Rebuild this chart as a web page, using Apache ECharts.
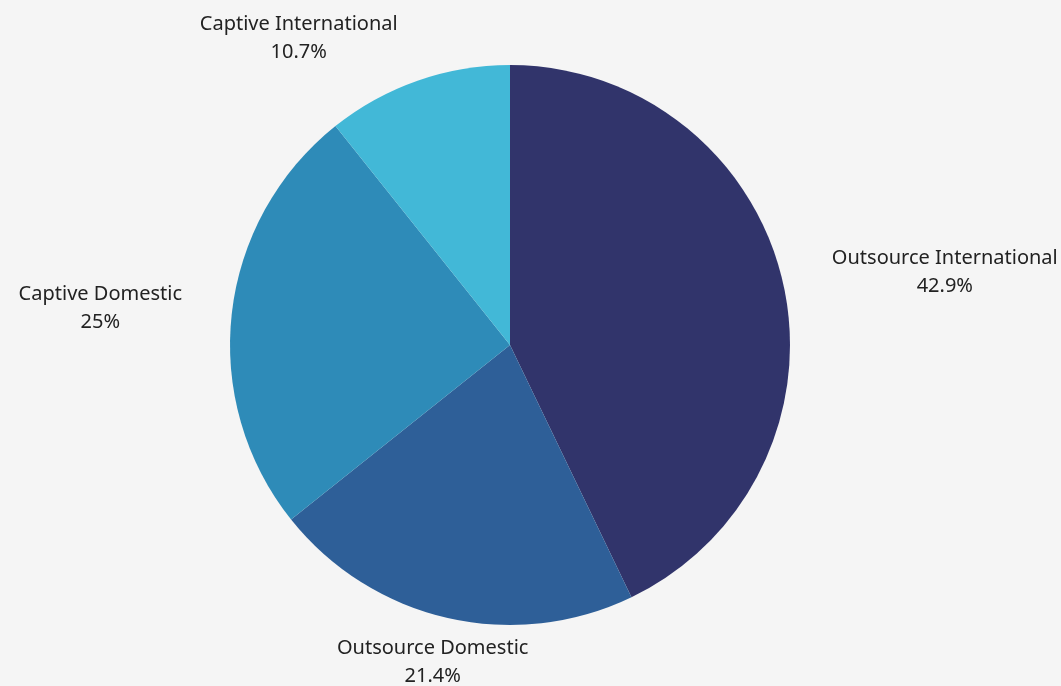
<!DOCTYPE html>
<html>
<head>
<meta charset="utf-8">
<script src="https://cdn.jsdelivr.net/npm/echarts@6/dist/echarts.min.js"></script>
<style>
    html, body { margin: 0; padding: 0; background: #f5f5f5; }
    #chart { width: 1061px; height: 686px; }
</style>
</head>
<body>
<div id="chart"></div>
<script>
// slices, clockwise from 12 o'clock
const categories = ['Outsource International', 'Outsource Domestic', 'Captive Domestic', 'Captive International']
const counts = [12, 6, 7, 3]
const sliceColors = ['#31346b', '#2e5f98', '#2e8bb8', '#42b8d7']

let option = {
    backgroundColor: '#f5f5f5',
    animation: false,
    series: [
        {
            type: 'pie',
            center: [510, 345],
            radius: 280,
            startAngle: 90,
            clockwise: true,
            percentPrecision: 1,
            avoidLabelOverlap: false,
            data: categories.map(function(name, i) {
                return { name: name, value: counts[i], itemStyle: { color: sliceColors[i] } }
            }),
            label: {
                show: true,
                position: 'outside',
                formatter: '{a|{b}}\n{a|{d}%}',
                rich: {
                    a: {
                        align: 'center',
                        fontFamily: 'Noto Sans',
                        fontSize: 20,
                        lineHeight: 28,
                        color: '#222'
                    }
                }
            },
            labelLine: {
                show: false,
                length: 45,
                length2: 0
            },
            // the bottom label sits centred under its slice
            labelLayout: function(params) {
                if (params.dataIndex === 1) {
                    return { align: 'center' }
                }
                return {}
            },
            emphasis: { disabled: true }
        }
    ]
}

var myChart = echarts.init(document.getElementById('chart'))
myChart.setOption(option)
</script>
</body>
</html>
